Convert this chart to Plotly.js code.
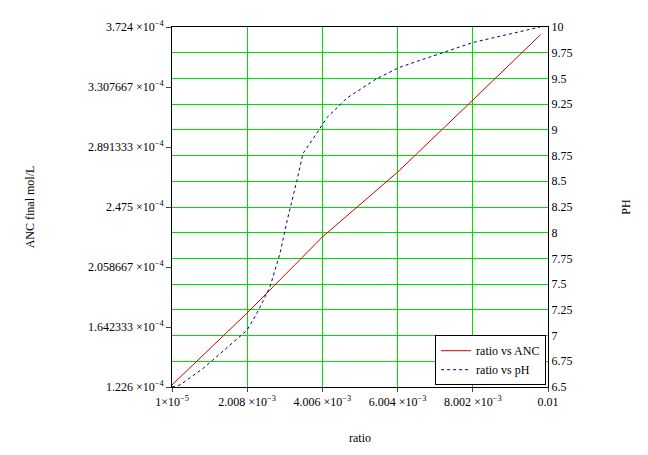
<!DOCTYPE html><html><head><script src="https://cdn.plot.ly/plotly-3.0.1.min.js"></script></head><body style="margin:0"><div id="c" style="width:648px;height:455px"></div><script>
const ancX=[0.00001,0.002008,0.004006,0.006004,0.008002,0.0098];
const ancY=[1.24e-4,1.74e-4,2.267e-4,2.717e-4,3.217e-4,3.67e-4];
const phX=[0.00001,0.000223,0.000834,0.00200,0.00227,0.00261,0.00288,0.00307,0.00333,0.00349,0.00386,0.00413,0.00466,0.00546,0.00607,0.00732,0.00801,0.00979];
const phY=[6.5,6.52,6.68,7.05,7.22,7.47,7.80,8.12,8.51,8.77,8.97,9.12,9.31,9.50,9.61,9.76,9.85,10.0];
const xTickVals=[0.00001,0.002008,0.004006,0.006004,0.008002,0.01];
const xTickText=['1×10<sup>−5</sup>','2.008 ×10<sup>−3</sup>','4.006 ×10<sup>−3</sup>','6.004 ×10<sup>−3</sup>','8.002 ×10<sup>−3</sup>','0.01'];
const yTickVals=[1.226e-4,1.642333e-4,2.058667e-4,2.475e-4,2.891333e-4,3.307667e-4,3.724e-4];
const yTickText=['1.226 ×10<sup>−4</sup>','1.642333 ×10<sup>−4</sup>','2.058667 ×10<sup>−4</sup>','2.475 ×10<sup>−4</sup>','2.891333 ×10<sup>−4</sup>','3.307667 ×10<sup>−4</sup>','3.724 ×10<sup>−4</sup>'];
const y2TickVals=[6.5,6.75,7,7.25,7.5,7.75,8,8.25,8.5,8.75,9,9.25,9.5,9.75,10];
const f={family:'Liberation Serif',size:12,color:'#000'};
Plotly.newPlot('c',[
{x:ancX,y:ancY,mode:'lines',name:'ratio vs ANC',line:{color:'#cc0000',width:1}},
{x:phX,y:phY,mode:'lines',name:'ratio vs pH',yaxis:'y2',line:{color:'#000080',width:1,dash:'dot'}}
],{
width:648,height:455,margin:{l:172,r:100,t:27,b:68},font:f,paper_bgcolor:'#fff',plot_bgcolor:'#fff',
xaxis:{range:[0.00001,0.01],tickvals:xTickVals,ticktext:xTickText,showgrid:true,gridcolor:'#00dd00',gridwidth:1,zeroline:false,showline:true,linecolor:'#000',mirror:true,ticks:'outside',ticklen:4,title:{text:'ratio',font:f,standoff:25}},
yaxis:{range:[1.226e-4,3.724e-4],tickvals:yTickVals,ticktext:yTickText,showgrid:false,zeroline:false,showline:true,linecolor:'#000',ticks:'outside',ticklen:5,title:{text:'ANC final mol/L',font:f,standoff:50}},
yaxis2:{overlaying:'y',side:'right',range:[6.5,10],tickvals:y2TickVals,ticktext:y2TickVals.map(String),showgrid:true,gridcolor:'#00dd00',zeroline:false,showline:true,linecolor:'#000',ticks:'',title:{text:'PH',font:f,standoff:50}},
legend:{x:0.995,y:0.005,xanchor:'right',yanchor:'bottom',bordercolor:'#000',borderwidth:1,bgcolor:'#fff',font:f}
},{displayModeBar:false});
</script></body></html>
